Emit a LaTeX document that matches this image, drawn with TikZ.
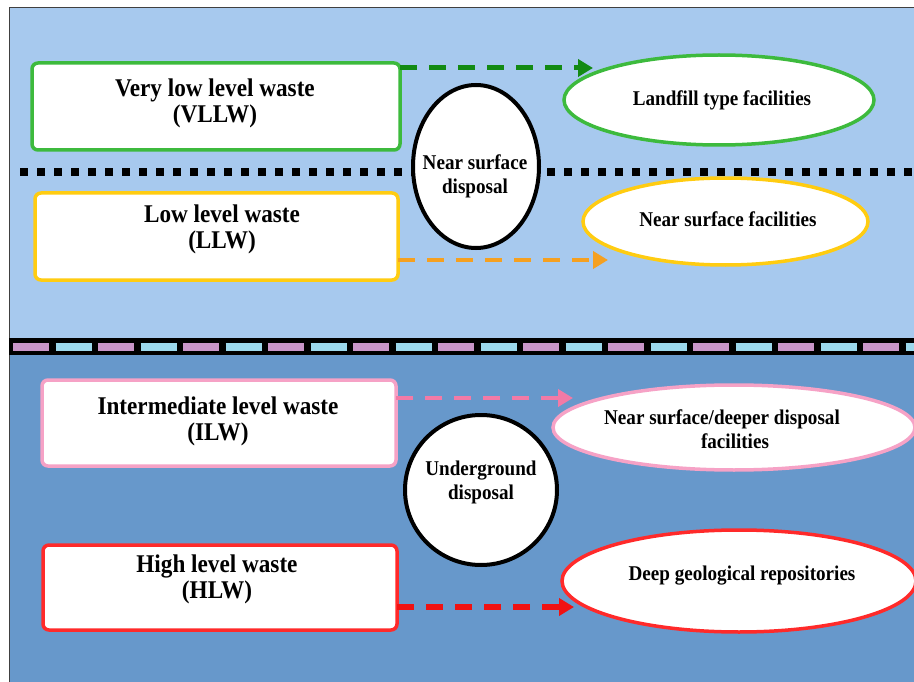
\documentclass[tikz,border=0pt]{standalone}
\usepackage{fontspec}
\setmainfont{Liberation Serif}
\newfontfamily\condserif[FakeStretch=0.91]{Liberation Serif}
\usetikzlibrary{shapes.geometric,arrows.meta}
\definecolor{bgtop}{HTML}{A7C9EE}
\definecolor{bgbot}{HTML}{6798CB}
\definecolor{cgreen}{HTML}{3DBA3D}
\definecolor{agreen}{HTML}{138A13}
\definecolor{cyellow}{HTML}{FFCC11}
\definecolor{aorange}{HTML}{F5A020}
\definecolor{cpink}{HTML}{F6A2C6}
\definecolor{apink}{HTML}{F27AA6}
\definecolor{cred}{HTML}{FF2A2A}
\definecolor{ared}{HTML}{F01212}
\definecolor{spink}{HTML}{C995C8}
\definecolor{scyan}{HTML}{9CD8EC}
\tikzset{
  wbox/.style={draw, line width=3.5pt, fill=white, rounded corners=6pt, inner sep=0pt, outer sep=0pt},
  fell/.style={ellipse, draw, line width=3.5pt, fill=white, inner sep=0pt},
  bell/.style={ellipse, draw=black, line width=4pt, fill=white, inner sep=0pt},
  bigtxt/.style={font=\condserif\fontsize{25.5}{26}\selectfont\bfseries, align=center, inner sep=0pt},
  smtxt/.style={font=\condserif\fontsize{21}{24}\selectfont\bfseries, align=center, inner sep=0pt},
  darr/.style={line width=5pt, dash pattern=on 17pt off 12pt, -{Triangle[length=15pt,width=17pt]}}
}
\begin{document}
\begin{tikzpicture}[x=1pt,y=-1pt]
\useasboundingbox (0,0) rectangle (914,682);
\fill[white] (0,0) rectangle (914,682);
\fill[bgtop] (9,8) rectangle (914,340);
\fill[bgbot] (9,340) rectangle (914,682);
\draw[line width=1pt, black!75] (9,682) -- (9,8) -- (914,8);
% dotted separator
\draw[line width=8pt, dash pattern=on 7.5pt off 9.5pt] (20,172) -- (914,172);
% band separator
\fill[black] (9,338) rectangle (914,355);
\draw[line width=8pt, spink, dash pattern=on 36pt off 49pt] (13,346.5) -- (914,346.5);
\draw[line width=8pt, scyan, dash pattern=on 36pt off 49pt] (55.5,346.5) -- (914,346.5);

% boxes
\node[wbox, draw=cgreen, minimum width=368pt, minimum height=87pt] (vllw) at (216,106.5) {};
\node[wbox, draw=cyellow, minimum width=363pt, minimum height=87pt] (llw) at (216.5,236.5) {};
\node[wbox, draw=cpink, minimum width=354pt, minimum height=86pt] (ilw) at (219,423) {};
\node[wbox, draw=cred, minimum width=354pt, minimum height=85pt] (hlw) at (220,587.5) {};
\node[bigtxt] (tvllw) at (215,103) {Very low level waste\\(VLLW)};
\node[bigtxt] (tllw) at (222,229) {Low level waste\\(LLW)};
\node[bigtxt] (tilw) at (218,421) {Intermediate level waste\\(ILW)};
\node[bigtxt] (thlw) at (217,579) {High level waste\\(HLW)};

% facility ellipses
\node[fell, draw=cgreen, minimum width=310pt, minimum height=90pt] (landfill) at (719,100) {};
\node[fell, draw=cyellow, minimum width=285pt, minimum height=87pt] (nsf) at (725.5,221.5) {};
\node[fell, draw=cpink, minimum width=362pt, minimum height=85pt] (deeper) at (734,427.5) {};
\node[fell, draw=cred, minimum width=354pt, minimum height=102pt] (deep) at (739,581) {};
\node[smtxt] (tlandfill) at (722,100) {Landfill type facilities};
\node[smtxt] (tnsf) at (728,219) {Near surface facilities};
\node[smtxt] (tdeeper) at (722,429) {Near surface/deeper disposal\\\hspace*{26pt}facilities};
\node[smtxt] (tdeep) at (742,576) {Deep geological repositories};

% black disposal ellipses
\node[bell, minimum width=126pt, minimum height=163pt] (nsd) at (476,166.5) {};
\node[bell, minimum width=152pt, minimum height=150pt] (ugd) at (481,490) {};
\node[smtxt] (tnsd) at (475,176.5) {Near surface\\disposal};
\node[smtxt] (tugd) at (481,482) {Underground\\disposal};

% arrows
\coordinate (e1) at (593,68);
\coordinate (e2) at (608,260);
\coordinate (e3) at (573,398);
\coordinate (e4) at (574,607);
\draw[darr, agreen] (vllw.east |- e1) -- (e1);
\draw[darr, aorange, line width=4pt] (llw.east |- e2) -- (e2);
\draw[darr, apink, line width=4pt] (ilw.east |- e3) -- (e3);
\draw[darr, ared, line width=6pt] (hlw.east |- e4) -- (e4);
\end{tikzpicture}
\end{document}
